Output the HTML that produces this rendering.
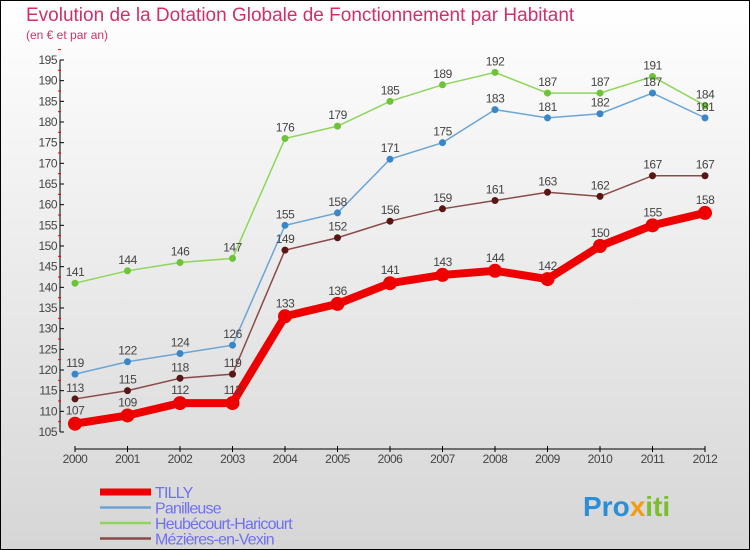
<!DOCTYPE html>
<html><head><meta charset="utf-8"><style>
body{margin:0;width:750px;height:550px;overflow:hidden;font-family:"Liberation Sans",sans-serif}
#bg{position:absolute;left:0;top:0;width:748px;height:548px;border:1px solid #000;background:linear-gradient(#fff,#d6d6d6)}
</style></head><body>
<div id="bg"></div>
<svg id="c" width="750" height="550" style="position:absolute;left:0;top:0">
<text x="26" y="21" font-size="19" fill="#d0306a">Evolution de la Dotation Globale de Fonctionnement par Habitant</text>
<text x="26" y="39" font-size="12" fill="#d0306a">(en € et par an)</text>
<g id="axes"></g><g id="series"></g><g id="legend"></g>
<text x="583" y="516" font-size="28" font-weight="bold"><tspan fill="#2a8fd8">Pro</tspan><tspan fill="#f39c12">x</tspan><tspan fill="#7bbf2a">iti</tspan></text>
</svg>
<script>
const years=[2000,2001,2002,2003,2004,2005,2006,2007,2008,2009,2010,2011,2012];
const tilly=[107,109,112,112,133,136,141,143,144,142,150,155,158];
const panilleuse=[119,122,124,126,155,158,171,175,183,181,182,187,181];
const heubecourt=[141,144,146,147,176,179,185,189,192,187,187,191,184];
const mezieres=[113,115,118,119,149,152,156,159,161,163,162,167,167];
const yTicks=[105,110,115,120,125,130,135,140,145,150,155,160,165,170,175,180,185,190,195];
const NS="http://www.w3.org/2000/svg";
const X=i=>75+i*52.5, Y=v=>432-(v-105)*372/90;
function mk(p,t,a){const e=document.createElementNS(NS,t);for(const k in a)e.setAttribute(k,a[k]);p.appendChild(e);return e;}
const ax=document.getElementById('axes');
let yl=mk(ax,'line',{x1:60,y1:Y(195),x2:60,y2:Y(105),stroke:'#000'});


yTicks.forEach(v=>{
 mk(ax,'line',{x1:60,x2:64,y1:Y(v),y2:Y(v),stroke:'#000'});
 mk(ax,'line',{x1:58,x2:61,y1:Y(v+2.5),y2:Y(v+2.5),stroke:'#e00'});
 const t=mk(ax,'text',{x:57,y:Y(v)+4,'font-size':12,fill:'#444','text-anchor':'end','letter-spacing':'-0.5'});
 t.textContent=v;
 
 
});
let xl=mk(ax,'line',{x1:75,y1:449,x2:705,y2:449,stroke:'#000'});


years.forEach((y,i)=>{
 mk(ax,'line',{x1:X(i),x2:X(i),y1:446,y2:452,stroke:'#000'});
 const t=mk(ax,'text',{x:X(i),y:463,'font-size':12,fill:'#444','text-anchor':'middle','letter-spacing':'-0.5'});
 t.textContent=y;
 
 
});
const S=[
 {n:'heubecourt',d:heubecourt,c:'#8dd65a',f:'#6cc436',w:1.5,r:3.5,lab:'Heubécourt-Haricourt'},
 {n:'panilleuse',d:panilleuse,c:'#6aa5d6',f:'#3a87c8',w:1.5,r:3.5,lab:'Panilleuse'},
 {n:'mezieres',d:mezieres,c:'#8a4a4a',f:'#5a1515',w:1.5,r:3.5,lab:'Mézières-en-Vexin'},
 {n:'tilly',d:tilly,c:'#ee0000',f:'#ee0000',w:8,r:7,lab:'TILLY'}];
const sg=document.getElementById('series');
S.forEach(s=>{
 const g=mk(sg,'g',{});
 
 
 mk(g,'polyline',{points:s.d.map((v,i)=>X(i)+','+Y(v)).join(' '),fill:'none',stroke:s.c,'stroke-width':s.w});
 s.d.forEach((v,i)=>{
  const p=mk(g,'circle',{cx:X(i),cy:Y(v),r:s.r,fill:s.f});
  
  
  const t=mk(g,'text',{x:X(i),y:Y(v)-(s.n=='tilly'?9:7),'font-size':12,fill:'#444','text-anchor':'middle','letter-spacing':'-0.5'});
  t.textContent=v;
  
  
 });
});
const lg=document.getElementById('legend');
[S[3],S[1],S[0],S[2]].forEach((s,i)=>{
 const y=492+i*15.5;
 const g=mk(lg,'g',{});
 
 
 mk(g,'line',{x1:100,x2:151,y1:y,y2:y,stroke:s.c,'stroke-width':s.n=='tilly'?7:2.5});
 const t=mk(g,'text',{x:155,y:y+6,'font-size':16,fill:'#7070f0','letter-spacing':'-0.8'});
 t.textContent=s.lab;
});
</script>
</body></html>
